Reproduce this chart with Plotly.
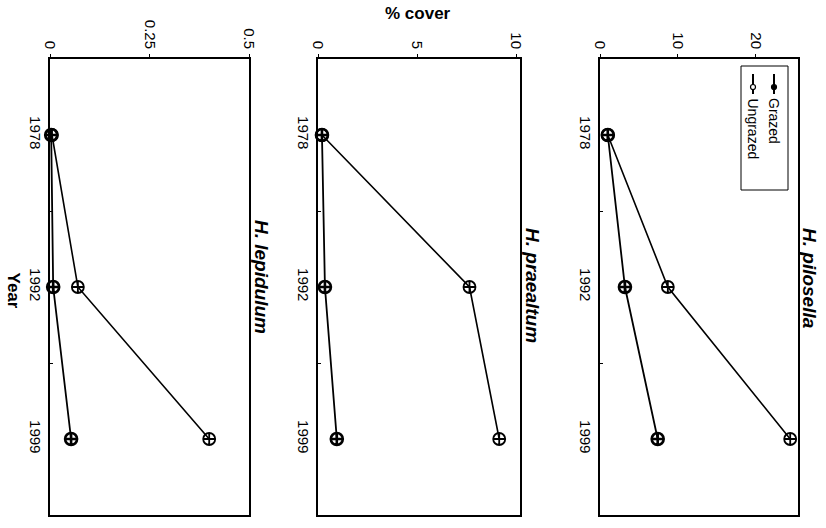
import plotly.graph_objects as go

years = ["1978", "1992", "1999"]
species = ["H. lepidulum", "H. praealtum", "H. pilosella"]
grazed = {
    "H. lepidulum": [0.003, 0.008, 0.053],
    "H. praealtum": [0.2, 0.35, 0.95],
    "H. pilosella": [1.0, 3.2, 7.4],
}
ungrazed = {
    "H. lepidulum": [0.005, 0.07, 0.40],
    "H. praealtum": [0.2, 7.65, 9.15],
    "H. pilosella": [1.0, 8.7, 24.4],
}
x_ranges = [[0, 0.5], [0, 10.2], [0, 25.4]]
x_ticks = [[0, 0.25, 0.5], [0, 5, 10], [0, 10, 20]]
x_ticklabels = [["0", "0.25", "0.5"], ["0", "5", "10"], ["0", "10", "20"]]

W, H = 826, 528
def px(x): return x / W
def py(y): return 1 - y / H

panel_px = [(50, 249), (318, 520), (600, 798)]
ytop, ybot = 59, 515
FONT = "Liberation Sans, Arial, sans-serif"

fig = go.Figure()
layout = dict(
    width=W, height=H, margin=dict(l=0, r=0, t=0, b=0, autoexpand=False),
    paper_bgcolor="white", plot_bgcolor="white", showlegend=False,
    font=dict(family=FONT, color="black"),
)
for i, sp in enumerate(species):
    n = "" if i == 0 else str(i + 1)
    xa, ya = "x" + n, "y" + n
    for vals, sym, lw, mw in [(grazed[sp], "circle-cross-open", 1.8, 2.6),
                              (ungrazed[sp], "circle-cross-open", 1.6, 1.8)]:
        fig.add_trace(go.Scatter(
            x=vals, y=years, xaxis=xa, yaxis=ya, mode="lines+markers",
            line=dict(color="black", width=lw),
            marker=dict(symbol=sym, size=12, color="black", line=dict(color="black", width=mw)),
            cliponaxis=False,
        ))
    l, r = panel_px[i]
    layout["xaxis" + n] = dict(
        domain=[px(l), px(r)], anchor=ya, side="top", range=x_ranges[i],
        tickmode="array", tickvals=x_ticks[i], ticktext=x_ticklabels[i],
        tickangle=90, showline=True, linecolor="black", linewidth=1.5, mirror=True,
        ticks="outside", ticklen=3, tickcolor="black", showgrid=False, zeroline=False,
        tickfont=dict(size=15, family=FONT), automargin=False,
    )
    layout["yaxis" + n] = dict(
        domain=[py(ybot), py(ytop)], anchor=xa, type="category",
        categoryorder="array", categoryarray=years, range=[2.5, -0.5],
        tickangle=90, showline=True, linecolor="black", linewidth=1.5, mirror=True,
        ticks="inside", tickson="boundaries", ticklen=3, tickcolor="black",
        showgrid=False, zeroline=False, tickfont=dict(size=15, family=FONT),
        automargin=False,
    )

title_pos = [(262, 277), (533, 285), (810, 278)]
annotations = []
for sp, (tx, ty) in zip(species, title_pos):
    annotations.append(dict(
        text="<b><i>%s</i></b>" % sp, x=px(tx), y=py(ty), xref="paper", yref="paper",
        showarrow=False, textangle=90, font=dict(size=19, family=FONT),
        xanchor="center", yanchor="middle",
    ))
annotations.append(dict(text="<b>% cover</b>", x=px(418), y=py(14), xref="paper", yref="paper",
                        showarrow=False, font=dict(size=17, family=FONT),
                        xanchor="center", yanchor="middle"))
annotations.append(dict(text="<b>Year</b>", x=px(2), y=py(290), xref="paper", yref="paper",
                        showarrow=False, textangle=90, font=dict(size=17, family=FONT),
                        xanchor="left", yanchor="middle"))

# Legend (rotated), drawn manually
legend_items = [("Grazed", 774, True), ("Ungrazed", 753, False)]
shapes = [dict(type="rect", xref="paper", yref="paper", x0=px(741), x1=px(788),
               y0=py(190), y1=py(66), line=dict(color="black", width=1))]
for label, lx, filled in legend_items:
    shapes.append(dict(type="line", xref="paper", yref="paper", x0=px(lx), x1=px(lx),
                       y0=py(74), y1=py(94), line=dict(color="black", width=2)))
    shapes.append(dict(type="circle", xref="paper", yref="paper",
                       x0=px(lx - 2.5), x1=px(lx + 2.5), y0=py(89.5), y1=py(84.5),
                       fillcolor="black" if filled else "white", line=dict(color="black", width=1.2)))
    annotations.append(dict(text=label, x=px(lx), y=py(96), xref="paper", yref="paper",
                            showarrow=False, textangle=90, xanchor="center", yanchor="top",
                            font=dict(size=14, family=FONT)))
layout["annotations"] = annotations
layout["shapes"] = shapes
fig.update_layout(**layout)
fig.write_html("out.html", config={"displayModeBar": False},
               post_script="document.body.style.margin='0';document.body.style.overflow='hidden';")
